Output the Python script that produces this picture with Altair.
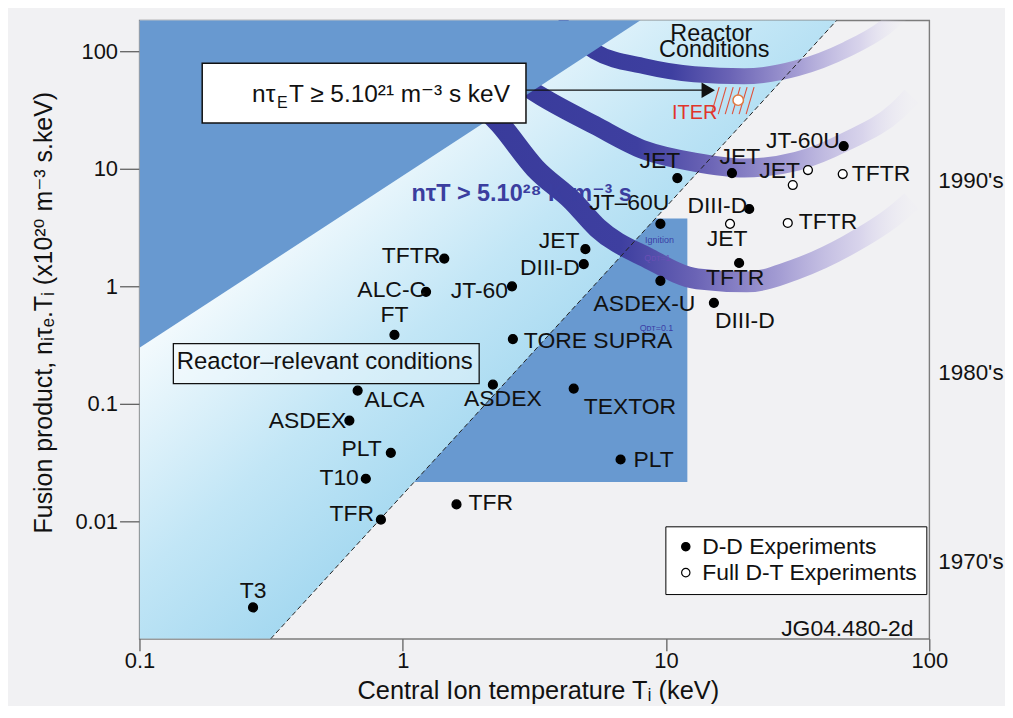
import altair as alt
import pandas as pd

FONT = "Liberation Sans, DejaVu Sans, sans-serif"
INK = "#111111"
DARK_BLUE = "#6899d0"
PURPLE_TEXT = "#3b3e9f"

# ---------------- axes ----------------
x_ticks = [0.1, 1, 10, 100]
y_ticks = [0.01, 0.1, 1, 10, 100]
x_domain = [0.1, 100]
y_domain = [0.001, 183.4]

# ---------------- experiments ----------------
names = ["T3", "TFR", "TFR", "T10", "PLT", "ASDEX", "ALCA", "ASDEX", "FT", "TORE SUPRA", "TEXTOR", "PLT",
         "ALC-C", "TFTR", "JT-60", "JET", "DIII-D",
         "JT\u201360U", "ASDEX-U", "JET", "JET", "JT-60U", "DIII-D", "TFTR", "DIII-D",
         "JET", "", "TFTR", "TFTR", "JET"]
temps = [0.270, 0.826, 1.60, 0.724, 0.901, 0.627, 0.674, 2.20, 0.930, 2.62, 4.46, 6.72,
         1.226, 1.438, 2.60, 4.94, 4.87,
         9.52, 9.52, 11.04, 17.8, 47.3, 20.7, 18.95, 15.2,
         34.6, 30.3, 46.9, 29.0, 17.5]
products = [0.00185, 0.01034, 0.01394, 0.02305, 0.0383, 0.0721, 0.1296, 0.1457, 0.387, 0.356, 0.1348, 0.0336,
            0.898, 1.723, 1.0, 2.07, 1.543,
            3.40, 1.113, 8.34, 9.20, 15.6, 4.55, 1.58, 0.724,
            9.76, 7.28, 9.03, 3.46, 3.40]
kinds = ["D-D Experiments"] * 25 + ["Full D-T Experiments"] * 5

# label placement (align, dx, dy) in pixels relative to each point
label_layout = [
    ("center", 0, -17), ("right", -7, -6), ("left", 12, -1), ("right", -7, -1), ("right", -9, -4),
    ("right", -3, 0), ("left", 7, 9), ("center", 10, 14), ("center", 0, -20), ("left", 11, 2),
    ("left", 10, 19), ("left", 13, 1),
    ("right", 0, -2), ("right", -4, -3), ("right", -4, 5), ("right", -6, -8), ("right", -4, 4),
    ("right", 9, -21), ("center", -16, 23), ("right", 3, -17), ("center", 8, -16), ("right", -4, -5),
    ("right", -2, -3), ("center", -4, 15), ("left", 1, 18),
    ("right", -8, 1), ("left", 0, 0), ("left", 9, 0), ("left", 11, -1), ("center", -3, 15),
]

# ITER
iter_T = [18.8]
iter_P = [38.4]
hatch_T_low = [14.85, 15.79, 16.78, 17.84, 18.95, 20.15]
hatch_T_high = [15.92, 16.92, 17.99, 19.12, 20.32, 21.6]
hatch_P_low = 29.2
hatch_P_high = 49.5

# ---------------- regions ----------------
rect_T = [1.0, 12.05]
rect_P = [0.0216, 3.77]
light_T = [0.1, 0.315, 44.5]
light_top = [183.4, 183.4, 183.4]
light_bottom = [0.001, 0.001, 183.4]
dark_T = [0.1, 8.0]
dark_top = [183.4, 183.4]
dark_bottom = [0.300, 183.4]
dash_T = [0.315, 44.5]
dash_P = [0.001, 183.4]

# ---------------- arcs (centre lines) ----------------
arc1_T = [3.88, 5.36, 8.28, 12.8, 19.8, 31.4, 48.6, 67.1, 78.4]
arc1_P = [179.8, 100, 74.6, 63.8, 61.3, 71.7, 104, 156.8, 210]
arc2_T = [2.404, 3.35, 5.36, 8.28, 12.8, 19.8, 31.4, 48.6, 75.1, 85.5]
arc2_P = [67.6, 41.5, 23.5, 14.4, 11.4, 10.15, 11.6, 17.2, 30.9, 41.5]
arc3_T = [1.934, 2.343, 3.18, 4.42, 5.50, 8.50, 13.15, 20.3, 31.4, 48.6, 75.1, 85.5]
arc3_P = [37.6, 24.0, 10.15, 5.32, 3.14, 1.746, 1.158, 1.092, 1.408, 2.21, 4.13, 5.32]

# ---------------- annotation texts ----------------
box_T = [0.1731, 2.938]
box_P = [24.5, 79.1]
box_text_T = 0.2677
box_text_P = 36.9
arrow_T = [2.938, 13.73]
arrow_head_T = 14.47
arrow_P = 46.7
rr_box_T = [0.1345, 1.951]
rr_box_P = [0.1486, 0.3249]
rr_text = ("Reactor\u2013relevant conditions", 0.5055, 0.2285)
ntt_text = ("n\u03c4T > 5.10\u00b2\u2078 K m\u207b\u00b3 s", 1.079, 5.32)
reactor_texts = [("Reactor", 14.85, 121.6), ("Conditions", 15.25, 88.9)]
ign_texts = [("Ignition", 9.44, 2.48, "#3b3ea6"), ("Q\u1d05\u1d1b=1", 9.28, 1.746, "#6a4fb5"),
             ("Q\u1d05\u1d1b=0.1", 9.20, 0.444, "#3b3ea6")]
decades = ["1990's", "1980's", "1970's"]
decade_P = [7.87, 0.184, 0.00449]
jg_text = ("JG04.480-2d", 87.1, 0.00121)

# ---------------- helpers ----------------
xscale = alt.Scale(type="log", domain=x_domain, nice=False)
yscale = alt.Scale(type="log", domain=y_domain, nice=False)
xaxis = alt.Axis(values=x_ticks, format="~g", title="Central Ion temperature T\u1d62 (keV)",
                 grid=False, domain=False, tickSize=12, tickColor="#555555", tickWidth=1.2,
                 labelFontSize=22, labelPadding=0, labelColor=INK, labelFont=FONT, labelFlush=False,
                 titleFontSize=25.5, titleFontWeight="normal", titleColor=INK, titleFont=FONT,
                 titleX=400, titleY=40)
yaxis = alt.Axis(values=y_ticks, format="~g",
                 title="Fusion product, n\u1d62\u03c4\u2091.T\u1d62 (x10\u00b2\u2070 m\u207b\u00b3 s.keV)",
                 grid=False, domain=False, tickSize=20, tickColor="#555555", tickWidth=1.2,
                 labelFontSize=22, labelPadding=2, labelColor=INK, labelFont=FONT, labelFlush=False,
                 titleFontSize=25, titleFontWeight="normal", titleColor=INK, titleFont=FONT,
                 titleX=-83, titleY=293)


def X(f="T"):
    return alt.X(f, type="quantitative", scale=xscale, axis=xaxis)


def Y(f="P"):
    return alt.Y(f, type="quantitative", scale=yscale, axis=yaxis)


def grad(stops, x1=0, y1=0, x2=1, y2=0):
    return alt.LinearGradient(gradient="linear",
                              stops=[alt.GradientStop(offset=o, color=c) for o, c in stops],
                              x1=x1, y1=y1, x2=x2, y2=y2)


layers = []

# dark rectangle (ignition region)
layers.append(alt.Chart(pd.DataFrame({"T": [rect_T[0]], "T2": [rect_T[1]], "P": [rect_P[0]], "P2": [rect_P[1]]}))
              .mark_rect(color=DARK_BLUE, clip=True)
              .encode(x=X(), x2="T2", y=Y(), y2="P2"))

# light gradient region (left of dashed line)
light_fill = grad([(0, "#ffffff"), (0.22, "#ffffff"), (0.45, "#c2e6f6"), (0.6, "#a4d8f0"), (1, "#a4d8f0")],
                  x1=0, y1=0, x2=1, y2=1)
layers.append(alt.Chart(pd.DataFrame({"T": light_T, "P": light_top, "P2": light_bottom}))
              .mark_area(color=light_fill, clip=True, opacity=1)
              .encode(x=X(), y=Y(), y2="P2"))

# purple arcs
arc_stops = [(0, "#393b9b"), (0.33, "#3e3fa0"), (0.5, "#6a63b5"), (0.7, "#a59ed4"),
             (0.88, "rgba(205,199,232,0.7)"), (1, "rgba(232,229,244,0.1)")]
for aT, aP, w in [(arc1_T, arc1_P, 16), (arc2_T, arc2_P, 19), (arc3_T, arc3_P, 21)]:
    layers.append(alt.Chart(pd.DataFrame({"T": aT, "P": aP}))
                  .mark_line(stroke=grad(arc_stops), strokeWidth=w, strokeCap="butt",
                             interpolate="monotone", clip=True)
                  .encode(x=X(), y=Y()))

# dark triangle (upper left)
layers.append(alt.Chart(pd.DataFrame({"T": dark_T, "P": dark_top, "P2": dark_bottom}))
              .mark_area(color=DARK_BLUE, clip=True, opacity=1)
              .encode(x=X(), y=Y(), y2="P2"))

# dashed boundary
layers.append(alt.Chart(pd.DataFrame({"T": dash_T, "P": dash_P}))
              .mark_line(color="#222222", strokeWidth=1, strokeDash=[5, 3], clip=True)
              .encode(x=X(), y=Y()))

# ignition texts
for t, tx, ty, col in ign_texts:
    layers.append(alt.Chart(pd.DataFrame({"T": [tx], "P": [ty], "t": [t]}))
                  .mark_text(fontSize=9, color=col, font=FONT)
                  .encode(x=X(), y=Y(), text="t:N"))

# Lawson box + arrow
layers.append(alt.Chart(pd.DataFrame({"T": [box_T[0]], "T2": [box_T[1]], "P": [box_P[0]], "P2": [box_P[1]]}))
              .mark_rect(fill="white", stroke="#111111", strokeWidth=1.5)
              .encode(x=X(), x2="T2", y=Y(), y2="P2"))
for t, size, dx, dy in [("n\u03c4", 24.5, 0, 0), ("E", 16, 25, 6),
                        ("T \u2265 5.10\u00b2\u00b9 m\u207b\u00b3 s keV", 24.5, 37, 0)]:
    layers.append(alt.Chart(pd.DataFrame({"T": [box_text_T], "P": [box_text_P], "t": [t]}))
                  .mark_text(align="left", baseline="alphabetic", fontSize=size, dx=dx, dy=dy,
                             color=INK, font=FONT)
                  .encode(x=X(), y=Y(), text="t:N"))
layers.append(alt.Chart(pd.DataFrame({"T": [arrow_T[0]], "T2": [arrow_T[1]], "P": [arrow_P]}))
              .mark_rule(color="#111111", strokeWidth=1.2)
              .encode(x=X(), x2="T2", y=Y()))
layers.append(alt.Chart(pd.DataFrame({"T": [arrow_head_T], "P": [arrow_P]}))
              .mark_point(shape="triangle-right", filled=True, color="#111111", size=240, opacity=1)
              .encode(x=X(), y=Y()))

# reactor-relevant box
layers.append(alt.Chart(pd.DataFrame({"T": [rr_box_T[0]], "T2": [rr_box_T[1]], "P": [rr_box_P[0]], "P2": [rr_box_P[1]]}))
              .mark_rect(fill="white", fillOpacity=0.35, stroke="#111111", strokeWidth=1.3)
              .encode(x=X(), x2="T2", y=Y(), y2="P2"))
layers.append(alt.Chart(pd.DataFrame({"T": [rr_text[1]], "P": [rr_text[2]], "t": [rr_text[0]]}))
              .mark_text(fontSize=24, color=INK, font=FONT, baseline="middle")
              .encode(x=X(), y=Y(), text="t:N"))

# ITER hatch, point and label
layers.append(alt.Chart(pd.DataFrame({"T": hatch_T_low, "T2": hatch_T_high,
                                      "P": [hatch_P_low] * len(hatch_T_low),
                                      "P2": [hatch_P_high] * len(hatch_T_low)}))
              .mark_rule(color="#e0503a", strokeWidth=1.1)
              .encode(x=X(), x2="T2", y=Y(), y2="P2"))
layers.append(alt.Chart(pd.DataFrame({"T": iter_T, "P": iter_P}))
              .mark_circle(fill="white", stroke="#e07a40", strokeWidth=1.5, size=110, opacity=1)
              .encode(x=X(), y=Y()))
layers.append(alt.Chart(pd.DataFrame({"T": iter_T, "P": iter_P, "t": ["ITER"]}))
              .mark_text(align="right", baseline="middle", dx=-21, dy=13, fontSize=20,
                         color="#e0352b", font=FONT)
              .encode(x=X(), y=Y(), text="t:N"))

# experiment points (with legend)
pts = pd.DataFrame({"T": temps, "P": products, "kind": kinds, "name": names})
layers.append(alt.Chart(pts)
              .mark_circle(size=80, stroke="black", strokeWidth=1.3, opacity=1)
              .encode(x=X(), y=Y(),
                      fill=alt.Fill("kind:N",
                                    scale=alt.Scale(domain=["D-D Experiments", "Full D-T Experiments"],
                                                    range=["black", "white"]),
                                    legend=alt.Legend(title=None, orient="none", legendX=528, legendY=508,
                                                      fillColor="white", strokeColor="black",
                                                      padding=9, rowPadding=2, labelFontSize=23,
                                                      labelFont=FONT, labelColor=INK, symbolType="circle",
                                                      symbolSize=70, symbolStrokeColor="black",
                                                      symbolStrokeWidth=1.2, labelOffset=5, labelLimit=400))))

# point labels
for i, (nm, t, p) in enumerate(zip(names, temps, products)):
    if not nm:
        continue
    al, dx, dy = label_layout[i]
    layers.append(alt.Chart(pd.DataFrame({"T": [t], "P": [p], "t": [nm]}))
                  .mark_text(align=al, baseline="middle", dx=dx, dy=dy, fontSize=23, color=INK, font=FONT)
                  .encode(x=X(), y=Y(), text="t:N"))

# n tau T text
layers.append(alt.Chart(pd.DataFrame({"T": [ntt_text[1]], "P": [ntt_text[2]], "t": [ntt_text[0]]}))
              .mark_text(align="left", baseline="alphabetic", fontSize=23.5, fontWeight="bold",
                         color=PURPLE_TEXT, font=FONT)
              .encode(x=X(), y=Y(), text="t:N"))

# Reactor Conditions
for t, tx, ty in reactor_texts:
    layers.append(alt.Chart(pd.DataFrame({"T": [tx], "P": [ty], "t": [t]}))
                  .mark_text(align="center", baseline="alphabetic", fontSize=23.5, color=INK, font=FONT)
                  .encode(x=X(), y=Y(), text="t:N"))

# decades on the right
layers.append(alt.Chart(pd.DataFrame({"T": [100] * len(decades), "P": decade_P, "t": decades}))
              .mark_text(align="left", baseline="middle", dx=9, fontSize=22.5, color=INK, font=FONT)
              .encode(x=X(), y=Y(), text="t:N"))

# figure reference
layers.append(alt.Chart(pd.DataFrame({"T": [jg_text[1]], "P": [jg_text[2]], "t": [jg_text[0]]}))
              .mark_text(align="right", baseline="middle", fontSize=23, color=INK, font=FONT)
              .encode(x=X(), y=Y(), text="t:N"))

chart = (alt.layer(*layers)
         .properties(width=793, height=621,
                     padding={"left": 132, "top": 11, "right": 76, "bottom": 66},
                     autosize=alt.AutoSizeParams(type="none"),
                     background="#f1f1f3")
         .configure(font=FONT)
         .configure_view(stroke="#7c7c7c", strokeWidth=1.4))

chart.save("out.html", embed_options={"renderer": "svg", "actions": False})
